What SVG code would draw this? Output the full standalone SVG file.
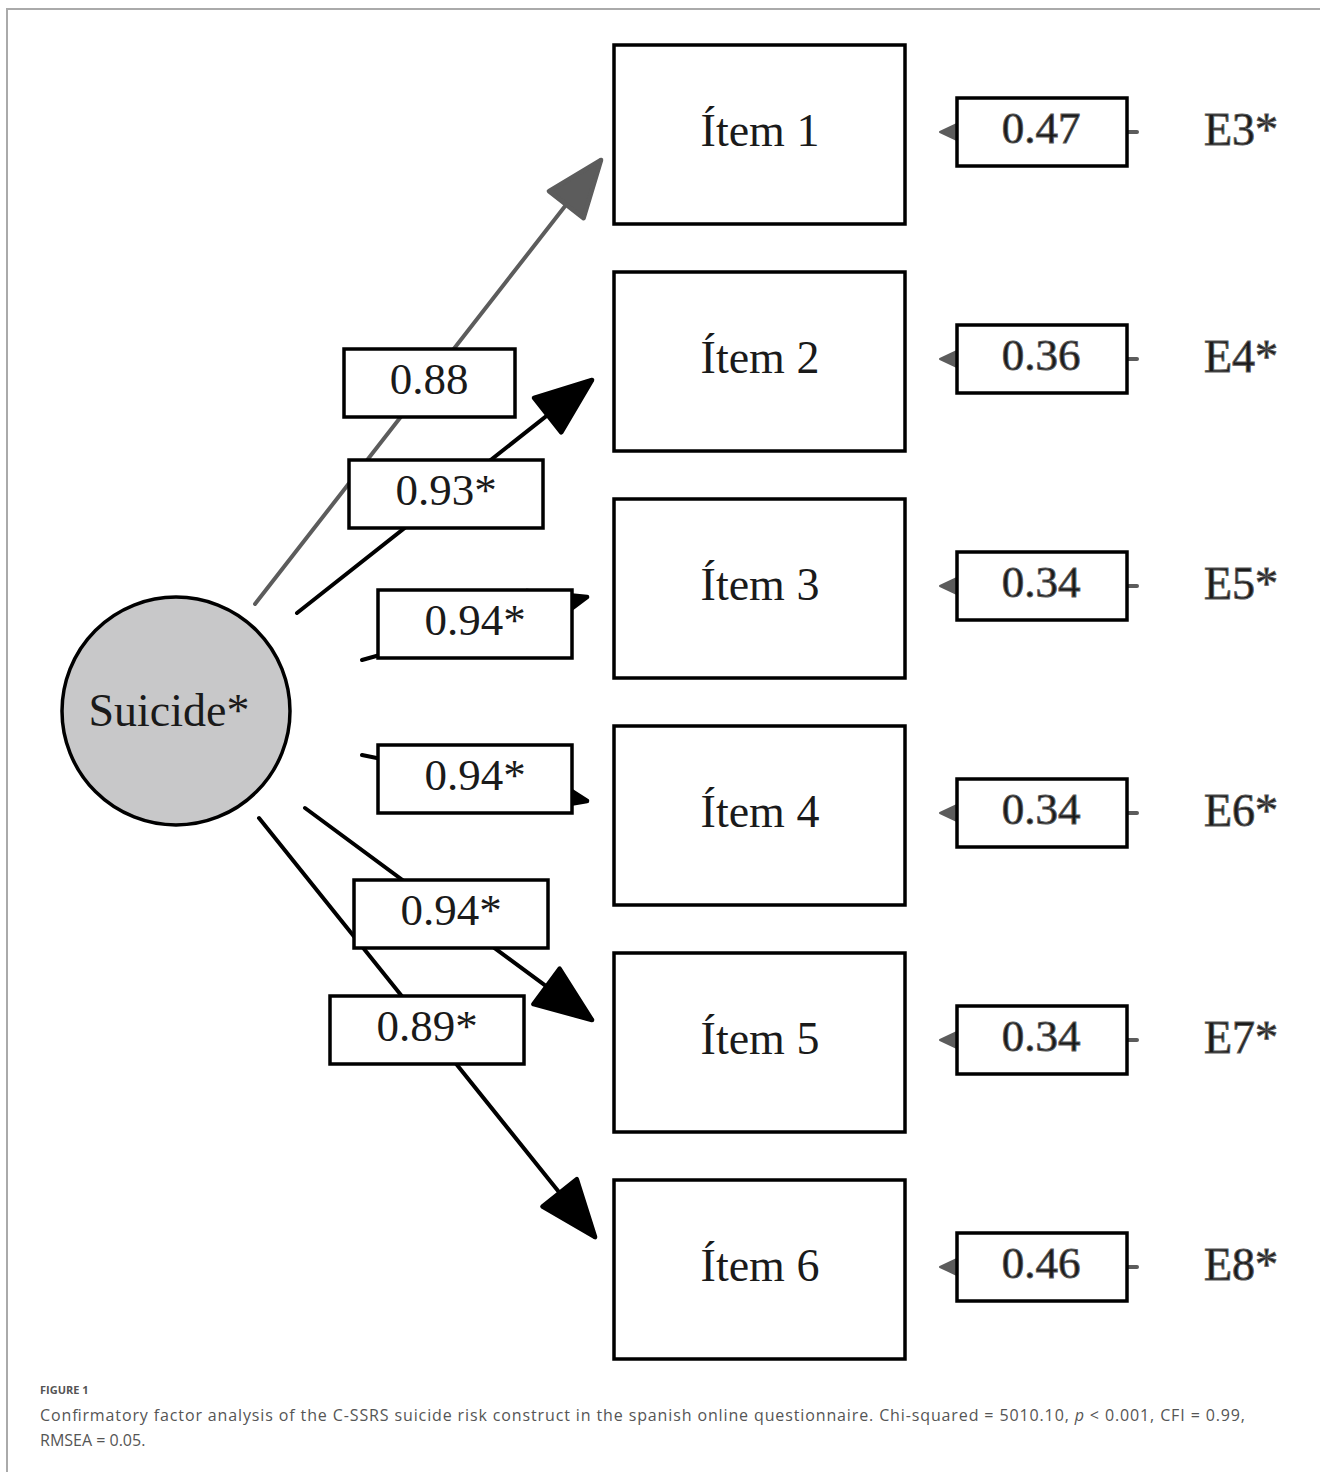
<svg xmlns="http://www.w3.org/2000/svg" width="1320" height="1472" viewBox="0 0 1320 1472">
<style>
.serif{font-family:"Liberation Serif","Times New Roman",serif;fill:#1a1a1a}
.box{fill:#fff;stroke:#000;stroke-width:3.5}
.lbl{font-size:45px;text-anchor:middle}
.nm{font-size:46px;text-anchor:middle}
.conn{fill:none;stroke-width:4;stroke-linecap:round}
.cap{font-family:"Open Sans","Noto Sans","Liberation Sans",sans-serif;fill:#555}
</style>
<defs>
<marker id="ahB" markerUnits="userSpaceOnUse" markerWidth="70" markerHeight="60" viewBox="-56 -26 60 52" refX="0" refY="0" orient="auto">
<path d="M0,0 L-49,-19 L-49,19 Z" fill="#000" stroke="#000" stroke-width="4" stroke-linejoin="round"/>
</marker>
<marker id="ahG" markerUnits="userSpaceOnUse" markerWidth="70" markerHeight="60" viewBox="-56 -26 60 52" refX="0" refY="0" orient="auto">
<path d="M0,0 L-49,-19 L-49,19 Z" fill="#5c5c5c" stroke="#5c5c5c" stroke-width="4" stroke-linejoin="round"/>
</marker>
</defs>
<rect width="1320" height="1472" fill="#fff"/>
<path d="M7,1472 V9 H1320" fill="none" stroke="#aaa" stroke-width="2"/>

<g id="connectors">
<line class="conn" x1="255" y1="604" x2="601" y2="160" stroke="#5c5c5c" marker-end="url(#ahG)"/>
<line class="conn" x1="297" y1="613" x2="592" y2="380" stroke="#000" marker-end="url(#ahB)"/>
<line class="conn" x1="362" y1="660" x2="587" y2="597" stroke="#000" marker-end="url(#ahB)"/>
<line class="conn" x1="362" y1="755" x2="587" y2="801" stroke="#000" marker-end="url(#ahB)"/>
<line class="conn" x1="305" y1="808" x2="592" y2="1020" stroke="#000" marker-end="url(#ahB)"/>
<line class="conn" x1="259" y1="818" x2="595" y2="1237" stroke="#000" marker-end="url(#ahB)"/>
<g id="loadings">
<rect class="box" x="344" y="349" width="171" height="68"/><text class="serif lbl" x="429" y="394">0.88</text>
<rect class="box" x="349" y="460" width="194" height="68"/><text class="serif lbl" x="446" y="505">0.93*</text>
<rect class="box" x="378" y="590" width="194" height="68"/><text class="serif lbl" x="475" y="635">0.94*</text>
<rect class="box" x="378" y="745" width="194" height="68"/><text class="serif lbl" x="475" y="790">0.94*</text>
<rect class="box" x="354" y="880" width="194" height="68"/><text class="serif lbl" x="451" y="925">0.94*</text>
<rect class="box" x="330" y="996" width="194" height="68"/><text class="serif lbl" x="427" y="1041">0.89*</text>
</g>
</g>

<g id="suicide">
<circle cx="176" cy="711" r="114" fill="#c8c8c9" stroke="#000" stroke-width="3.5"/>
<text class="serif nm" x="169" y="726">Suicide*</text>
</g>

<g id="item1"><rect class="box" x="614" y="45" width="291" height="179"/><text class="serif nm" x="760" y="146">Ítem 1</text></g>
<g id="item2"><rect class="box" x="614" y="272" width="291" height="179"/><text class="serif nm" x="760" y="373">Ítem 2</text></g>
<g id="item3"><rect class="box" x="614" y="499" width="291" height="179"/><text class="serif nm" x="760" y="600">Ítem 3</text></g>
<g id="item4"><rect class="box" x="614" y="726" width="291" height="179"/><text class="serif nm" x="760" y="827">Ítem 4</text></g>
<g id="item5"><rect class="box" x="614" y="953" width="291" height="179"/><text class="serif nm" x="760" y="1054">Ítem 5</text></g>
<g id="item6"><rect class="box" x="614" y="1180" width="291" height="179"/><text class="serif nm" x="760" y="1281">Ítem 6</text></g>

<g id="errors" fill="#5c5c5c" stroke="#5c5c5c">
<g id="e3"><path d="M940,132 L957,124 L957,140 Z" stroke-linejoin="round" stroke-width="2"/><line x1="1127" y1="132" x2="1137" y2="132" stroke-width="4" stroke-linecap="round"/><rect class="box" x="957" y="98" width="170" height="68"/><text class="serif lbl" x="1041" y="143">0.47</text><text class="serif nm" x="1241" y="145">E3*</text></g>
<g id="e4"><path d="M940,359 L957,351 L957,367 Z" stroke-linejoin="round" stroke-width="2"/><line x1="1127" y1="359" x2="1137" y2="359" stroke-width="4" stroke-linecap="round"/><rect class="box" x="957" y="325" width="170" height="68"/><text class="serif lbl" x="1041" y="370">0.36</text><text class="serif nm" x="1241" y="372">E4*</text></g>
<g id="e5"><path d="M940,586 L957,578 L957,594 Z" stroke-linejoin="round" stroke-width="2"/><line x1="1127" y1="586" x2="1137" y2="586" stroke-width="4" stroke-linecap="round"/><rect class="box" x="957" y="552" width="170" height="68"/><text class="serif lbl" x="1041" y="597">0.34</text><text class="serif nm" x="1241" y="599">E5*</text></g>
<g id="e6"><path d="M940,813 L957,805 L957,821 Z" stroke-linejoin="round" stroke-width="2"/><line x1="1127" y1="813" x2="1137" y2="813" stroke-width="4" stroke-linecap="round"/><rect class="box" x="957" y="779" width="170" height="68"/><text class="serif lbl" x="1041" y="824">0.34</text><text class="serif nm" x="1241" y="826">E6*</text></g>
<g id="e7"><path d="M940,1040 L957,1032 L957,1048 Z" stroke-linejoin="round" stroke-width="2"/><line x1="1127" y1="1040" x2="1137" y2="1040" stroke-width="4" stroke-linecap="round"/><rect class="box" x="957" y="1006" width="170" height="68"/><text class="serif lbl" x="1041" y="1051">0.34</text><text class="serif nm" x="1241" y="1053">E7*</text></g>
<g id="e8"><path d="M940,1267 L957,1259 L957,1275 Z" stroke-linejoin="round" stroke-width="2"/><line x1="1127" y1="1267" x2="1137" y2="1267" stroke-width="4" stroke-linecap="round"/><rect class="box" x="957" y="1233" width="170" height="68"/><text class="serif lbl" x="1041" y="1278">0.46</text><text class="serif nm" x="1241" y="1280">E8*</text></g>
</g>

<g id="caption">
<text class="cap" x="40" y="1394" font-size="11" font-weight="bold" fill="#666">FIGURE 1</text>
<text class="cap" x="40" y="1421" font-size="16" textLength="1205" lengthAdjust="spacing">Confirmatory factor analysis of the C-SSRS suicide risk construct in the spanish online questionnaire. Chi-squared = 5010.10, <tspan font-style="italic">p</tspan> &lt; 0.001, CFI = 0.99,</text>
<text class="cap" x="40" y="1446" font-size="16">RMSEA = 0.05.</text>
</g>
</svg>
